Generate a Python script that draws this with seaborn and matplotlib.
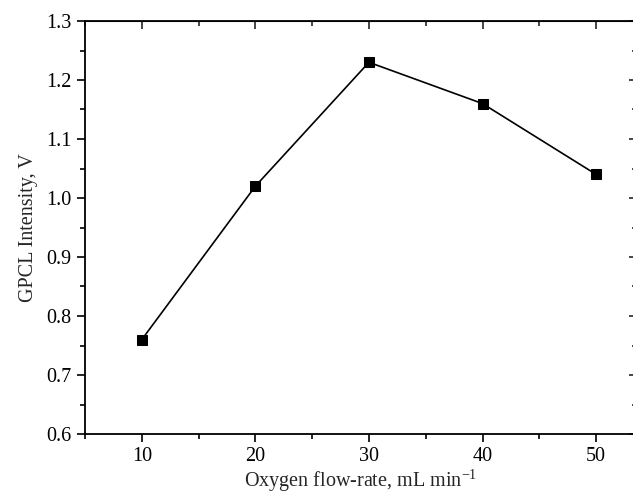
import seaborn as sns
import pandas as pd
import matplotlib.pyplot as plt
from matplotlib.ticker import MultipleLocator

# Data ------------------------------------------------------------------------
flow = [10, 20, 30, 40, 50]
intensity = [0.76, 1.02, 1.23, 1.16, 1.04]
df = pd.DataFrame({'flow': flow, 'intensity': intensity})

# Style -----------------------------------------------------------------------
sns.set_style('ticks')
plt.rcParams['font.family'] = ['Liberation Serif', 'DejaVu Serif']
plt.rcParams['mathtext.fontset'] = 'custom'
plt.rcParams['mathtext.rm'] = 'Liberation Serif'
plt.rcParams['mathtext.it'] = 'Liberation Serif:italic'
FS = 14.5

# Plot ------------------------------------------------------------------------
fig = plt.figure(figsize=(6.33, 4.99), dpi=100)
ax = fig.add_axes([85 / 633, 65 / 499, 552 / 633, 413 / 499])
sns.lineplot(data=df, x='flow', y='intensity', ax=ax, color='black',
             marker='s', markersize=7, markeredgecolor='black',
             linewidth=1.2)

# Post Plot -------------------------------------------------------------------
ax.set_xlim(5, 53.6)
ax.set_ylim(0.6, 1.3)
ax.xaxis.set_major_locator(MultipleLocator(10))
ax.xaxis.set_minor_locator(MultipleLocator(5))
ax.yaxis.set_major_locator(MultipleLocator(0.1))
ax.yaxis.set_minor_locator(MultipleLocator(0.05))
ax.tick_params(which='both', labelsize=FS, width=1.2, colors='black')
ax.tick_params(which='major', length=6)
ax.tick_params(which='minor', length=3.5)
# mirrored ticks pointing inward on top/right
sec_x = ax.secondary_xaxis('top')
sec_x.xaxis.set_major_locator(MultipleLocator(10))
sec_x.xaxis.set_minor_locator(MultipleLocator(5))
sec_x.tick_params(which='both', direction='in', labeltop=False, width=1.2)
sec_x.tick_params(which='major', length=6)
sec_x.tick_params(which='minor', length=3.5)
sec_y = ax.secondary_yaxis('right')
sec_y.yaxis.set_major_locator(MultipleLocator(0.1))
sec_y.yaxis.set_minor_locator(MultipleLocator(0.05))
sec_y.tick_params(which='both', direction='in', labelright=False, width=1.2)
sec_y.tick_params(which='major', length=6)
sec_y.tick_params(which='minor', length=3.5)
for s in ax.spines.values():
    s.set_linewidth(1.3)
    s.set_color('black')
ax.set_yticklabels([f'{v:.1f}' for v in ax.get_yticks()])
ax.set_xlabel('Oxygen flow-rate, mL min$^{-1}$', fontsize=FS, labelpad=1)
ax.set_ylabel('GPCL Intensity, V', fontsize=FS, labelpad=6)

# Save ------------------------------------------------------------------------
fig.savefig('out.png', dpi=100)
